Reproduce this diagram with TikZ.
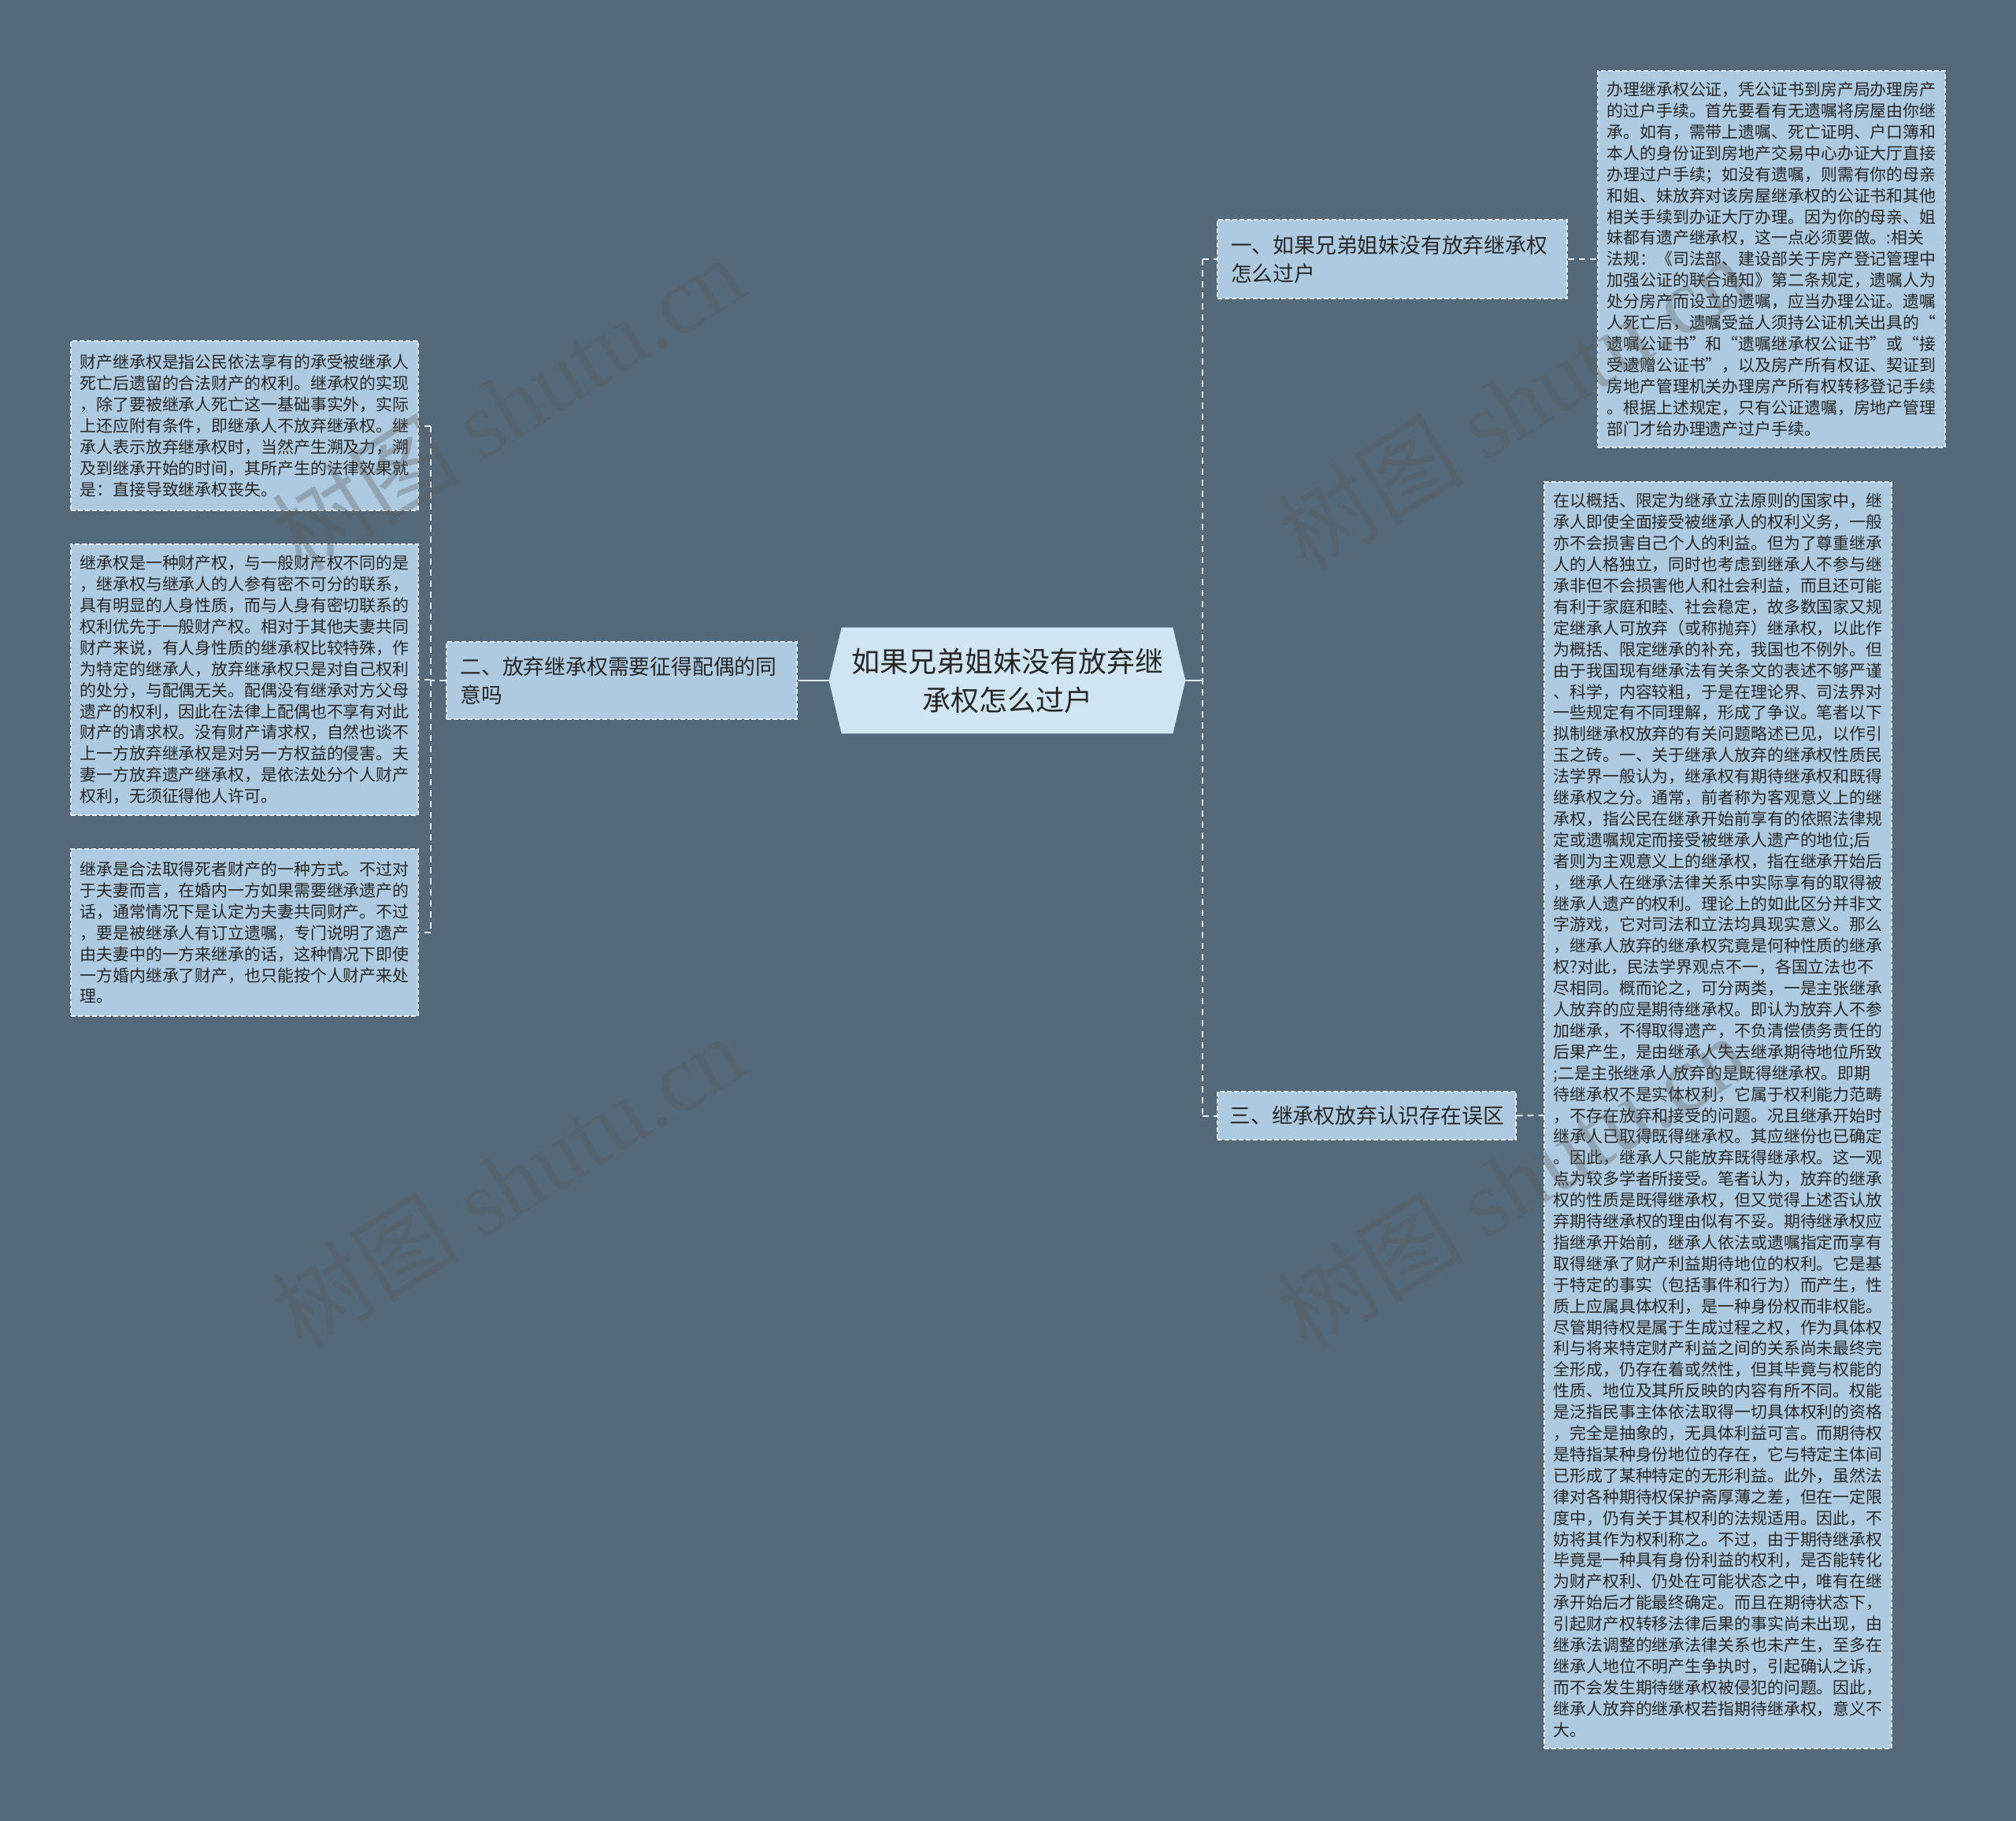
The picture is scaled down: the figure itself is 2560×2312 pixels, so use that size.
\documentclass[tikz,border=0pt]{standalone}
\usepackage{fontspec}
\setmainfont{Noto Sans CJK SC}
\newfontfamily\wmlatin{Liberation Serif}
\usepackage{tikz}
\definecolor{bgslate}{HTML}{546A7B}
\definecolor{boxblue}{HTML}{ADCAE0}
\definecolor{rootblue}{HTML}{CFE5F2}
\definecolor{edgelight}{HTML}{E3ECF2}
\definecolor{inkdark}{HTML}{262626}
\pgfdeclarelayer{back}
\pgfsetlayers{back,main}
\tikzset{
  leaf/.style={draw=edgelight, line width=0.6pt, dash pattern=on 3pt off 1.5pt, fill=boxblue,
    text=inkdark, font=\fontsize{10.45pt}{13.45pt}\selectfont, align=left,
    text width=209pt, inner xsep=5.75pt, inner ysep=0pt, minimum width=220.5pt},
  branch/.style={draw=edgelight, line width=0.6pt, dash pattern=on 3pt off 1.5pt, fill=boxblue,
    text=inkdark, font=\fontsize{13.4pt}{18pt}\selectfont, align=left, inner ysep=0pt},
  link/.style={edgelight, line width=1pt, dash pattern=on 4pt off 3pt},
  trunk/.style={edgelight, line width=1.2pt},
  wmtext/.style={text=black!65, text opacity=0.33, font=\fontsize{60pt}{64pt}\selectfont, rotate=32}
}
\begin{document}
\begin{tikzpicture}[x=0.5pt, y=-0.5pt]
    \useasboundingbox (0,0) rectangle (2560,2312);
    \begin{pgfonlayer}{back}
    \fill[bgslate] (0,0) rectangle (2560,2312);
    \end{pgfonlayer}

    % root and its three branches
    \node[align=center, text width=200pt, minimum width=210pt, minimum height=67pt, inner sep=0pt,
      text=inkdark, font=\fontsize{18pt}{24.5pt}\selectfont] (n0) at (1279,864)
      {如果兄弟姐妹没有放弃继\\承权怎么过户};
    \begin{pgfonlayer}{back}
    \fill[rootblue] ([xshift=-8pt]n0.west) -- (n0.north west) -- (n0.north east)
      -- ([xshift=8pt]n0.east) -- (n0.south east) -- (n0.south west) -- cycle;
    \end{pgfonlayer}

    \node[branch, text width=205pt, inner xsep=8.5pt, minimum width=222pt, minimum height=50pt] (n1) at (1768,329)
      {一、如果兄弟姐妹没有放弃继承权\\怎么过户};
    \node[branch, text width=205pt, inner xsep=8.75pt, minimum width=222.5pt, minimum height=49pt] (n2) at (789.5,864)
      {二、放弃继承权需要征得配偶的同\\意吗};
    \node[branch, text width=174pt, inner xsep=7.75pt, minimum width=189.5pt, minimum height=30.5pt] (n3) at (1735.5,1416.5)
      {三、继承权放弃认识存在误区};

    % leaves
    \node[leaf, minimum height=239pt] (n1a) at (2249.5,329) {%
      办理继承权公证，凭公证书到房产局办理房产\\
      的过户手续。首先要看有无遗嘱将房屋由你继\\
      承。如有，需带上遗嘱、死亡证明、户口簿和\\
      本人的身份证到房地产交易中心办证大厅直接\\
      办理过户手续；如没有遗嘱，则需有你的母亲\\
      和姐、妹放弃对该房屋继承权的公证书和其他\\
      相关手续到办证大厅办理。因为你的母亲、姐\\
      妹都有遗产继承权，这一点必须要做。:相关\\
      法规：《司法部、建设部关于房产登记管理中\\
      加强公证的联合通知》第二条规定，遗嘱人为\\
      处分房产而设立的遗嘱，应当办理公证。遗嘱\\
      人死亡后，遗嘱受益人须持公证机关出具的“\\
      遗嘱公证书”和“遗嘱继承权公证书”或“接\\
      受遗赠公证书”，以及房产所有权证、契证到\\
      房地产管理机关办理房产所有权转移登记手续\\
      。根据上述规定，只有公证遗嘱，房地产管理\\
      部门才给办理遗产过户手续。};

    \node[leaf, minimum height=804pt] (n3a) at (2181.5,1416) {%
      在以概括、限定为继承立法原则的国家中，继\\
      承人即使全面接受被继承人的权利义务，一般\\
      亦不会损害自己个人的利益。但为了尊重继承\\
      人的人格独立，同时也考虑到继承人不参与继\\
      承非但不会损害他人和社会利益，而且还可能\\
      有利于家庭和睦、社会稳定，故多数国家又规\\
      定继承人可放弃（或称抛弃）继承权，以此作\\
      为概括、限定继承的补充，我国也不例外。但\\
      由于我国现有继承法有关条文的表述不够严谨\\
      、科学，内容较粗，于是在理论界、司法界对\\
      一些规定有不同理解，形成了争议。笔者以下\\
      拟制继承权放弃的有关问题略述已见，以作引\\
      玉之砖。一、关于继承人放弃的继承权性质民\\
      法学界一般认为，继承权有期待继承权和既得\\
      继承权之分。通常，前者称为客观意义上的继\\
      承权，指公民在继承开始前享有的依照法律规\\
      定或遗嘱规定而接受被继承人遗产的地位;后\\
      者则为主观意义上的继承权，指在继承开始后\\
      ，继承人在继承法律关系中实际享有的取得被\\
      继承人遗产的权利。理论上的如此区分并非文\\
      字游戏，它对司法和立法均具现实意义。那么\\
      ，继承人放弃的继承权究竟是何种性质的继承\\
      权?对此，民法学界观点不一，各国立法也不\\
      尽相同。概而论之，可分两类，一是主张继承\\
      人放弃的应是期待继承权。即认为放弃人不参\\
      加继承，不得取得遗产，不负清偿债务责任的\\
      后果产生，是由继承人失去继承期待地位所致\\
      ;二是主张继承人放弃的是既得继承权。即期\\
      待继承权不是实体权利，它属于权利能力范畴\\
      ，不存在放弃和接受的问题。况且继承开始时\\
      继承人已取得既得继承权。其应继份也已确定\\
      。因此，继承人只能放弃既得继承权。这一观\\
      点为较多学者所接受。笔者认为，放弃的继承\\
      权的性质是既得继承权，但又觉得上述否认放\\
      弃期待继承权的理由似有不妥。期待继承权应\\
      指继承开始前，继承人依法或遗嘱指定而享有\\
      取得继承了财产利益期待地位的权利。它是基\\
      于特定的事实（包括事件和行为）而产生，性\\
      质上应属具体权利，是一种身份权而非权能。\\
      尽管期待权是属于生成过程之权，作为具体权\\
      利与将来特定财产利益之间的关系尚未最终完\\
      全形成，仍存在着或然性，但其毕竟与权能的\\
      性质、地位及其所反映的内容有所不同。权能\\
      是泛指民事主体依法取得一切具体权利的资格\\
      ，完全是抽象的，无具体利益可言。而期待权\\
      是特指某种身份地位的存在，它与特定主体间\\
      已形成了某种特定的无形利益。此外，虽然法\\
      律对各种期待权保护斋厚薄之差，但在一定限\\
      度中，仍有关于其权利的法规适用。因此，不\\
      妨将其作为权利称之。不过，由于期待继承权\\
      毕竟是一种具有身份利益的权利，是否能转化\\
      为财产权利、仍处在可能状态之中，唯有在继\\
      承开始后才能最终确定。而且在期待状态下，\\
      引起财产权转移法律后果的事实尚未出现，由\\
      继承法调整的继承法律关系也未产生，至多在\\
      继承人地位不明产生争执时，引起确认之诉，\\
      而不会发生期待继承权被侵犯的问题。因此，\\
      继承人放弃的继承权若指期待继承权，意义不\\
      大。};

    \node[leaf, minimum height=107.5pt] (n2a) at (310.5,540.5) {%
      财产继承权是指公民依法享有的承受被继承人\\
      死亡后遗留的合法财产的权利。继承权的实现\\
      ，除了要被继承人死亡这一基础事实外，实际\\
      上还应附有条件，即继承人不放弃继承权。继\\
      承人表示放弃继承权时，当然产生溯及力，溯\\
      及到继承开始的时间，其所产生的法律效果就\\
      是：直接导致继承权丧失。};
    \node[leaf, minimum height=172pt] (n2b) at (310.5,863) {%
      继承权是一种财产权，与一般财产权不同的是\\
      ，继承权与继承人的人参有密不可分的联系，\\
      具有明显的人身性质，而与人身有密切联系的\\
      权利优先于一般财产权。相对于其他夫妻共同\\
      财产来说，有人身性质的继承权比较特殊，作\\
      为特定的继承人，放弃继承权只是对自己权利\\
      的处分，与配偶无关。配偶没有继承对方父母\\
      遗产的权利，因此在法律上配偶也不享有对此\\
      财产的请求权。没有财产请求权，自然也谈不\\
      上一方放弃继承权是对另一方权益的侵害。夫\\
      妻一方放弃遗产继承权，是依法处分个人财产\\
      权利，无须征得他人许可。};
    \node[leaf, minimum height=106pt] (n2c) at (310.5,1184) {%
      继承是合法取得死者财产的一种方式。不过对\\
      于夫妻而言，在婚内一方如果需要继承遗产的\\
      话，通常情况下是认定为夫妻共同财产。不过\\
      ，要是被继承人有订立遗嘱，专门说明了遗产\\
      由夫妻中的一方来继承的话，这种情况下即使\\
      一方婚内继承了财产，也只能按个人财产来处\\
      理。};

    % connectors
    \coordinate (lj) at (547,864);
    \coordinate (rj) at (1527,864);
    \draw[trunk] ([xshift=-8pt]n0.west) -- (n2.east);
    \draw[trunk] ([xshift=8pt]n0.east) -- (rj);
    \draw[link] (n2.west) -- (lj);
    \draw[link] (lj |- n2a.east) -- (lj |- n2c.east);
    \foreach \b in {n2a,n2b,n2c}
    \draw[link] (lj |- \b.east) -- (\b.east);
    \draw[link] (rj |- n1.west) -- (rj |- n3.west);
    \foreach \b in {n1,n3}
    \draw[link] (rj |- \b.west) -- (\b.west);
    \draw[link] (n1.east) -- (n1a.west);
    \draw[link] (n3.east) -- (n3a.west);

    % watermarks
    \foreach \wx/\wy [count=\i] in {645/512, 645/1500, 1920/512, 1920/1500}
    \node[wmtext] (wm\i) at (\wx,\wy) {树图 {\wmlatin shutu.cn}};
\end{tikzpicture}
\end{document}
